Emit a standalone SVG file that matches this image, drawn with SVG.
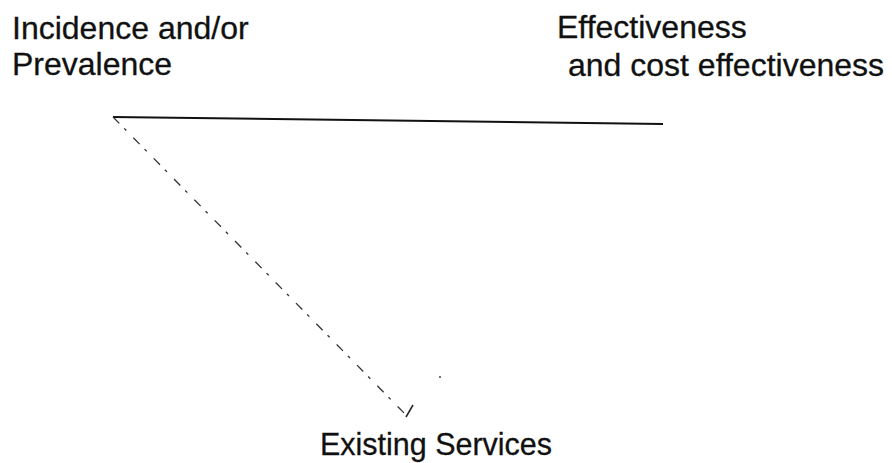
<svg xmlns="http://www.w3.org/2000/svg" width="892" height="463" viewBox="0 0 892 463">
<style>
text{font-family:"Liberation Sans",Arial,sans-serif;font-size:32px;fill:#111;stroke:#111;stroke-width:0.3}
.solid{stroke:#111;stroke-width:2;fill:none}
.dots{stroke:#333;stroke-width:1.3;fill:none;stroke-dasharray:9 7 3 10}
</style>
<rect width="892" height="463" fill="#fff"/>
<g id="connectors">
<line class="solid" x1="113" y1="117" x2="663" y2="124"/>
<line class="dots" x1="113" y1="117" x2="407" y2="416"/>
<line stroke="#222" stroke-width="1.5" x1="406" y1="417" x2="413" y2="405"/>
<circle cx="440" cy="377" r="0.9" fill="#333"/>
</g>
<g id="node-incidence">
<text x="12" y="39">Incidence and/or</text>
<text x="12" y="75">Prevalence</text>
</g>
<g id="node-effectiveness">
<text x="557" y="38">Effectiveness</text>
<text x="568" y="76">and cost effectiveness</text>
</g>
<g id="node-existing">
<text x="320" y="455" font-size="30" textLength="232" lengthAdjust="spacingAndGlyphs">Existing Services</text>
</g>
</svg>
